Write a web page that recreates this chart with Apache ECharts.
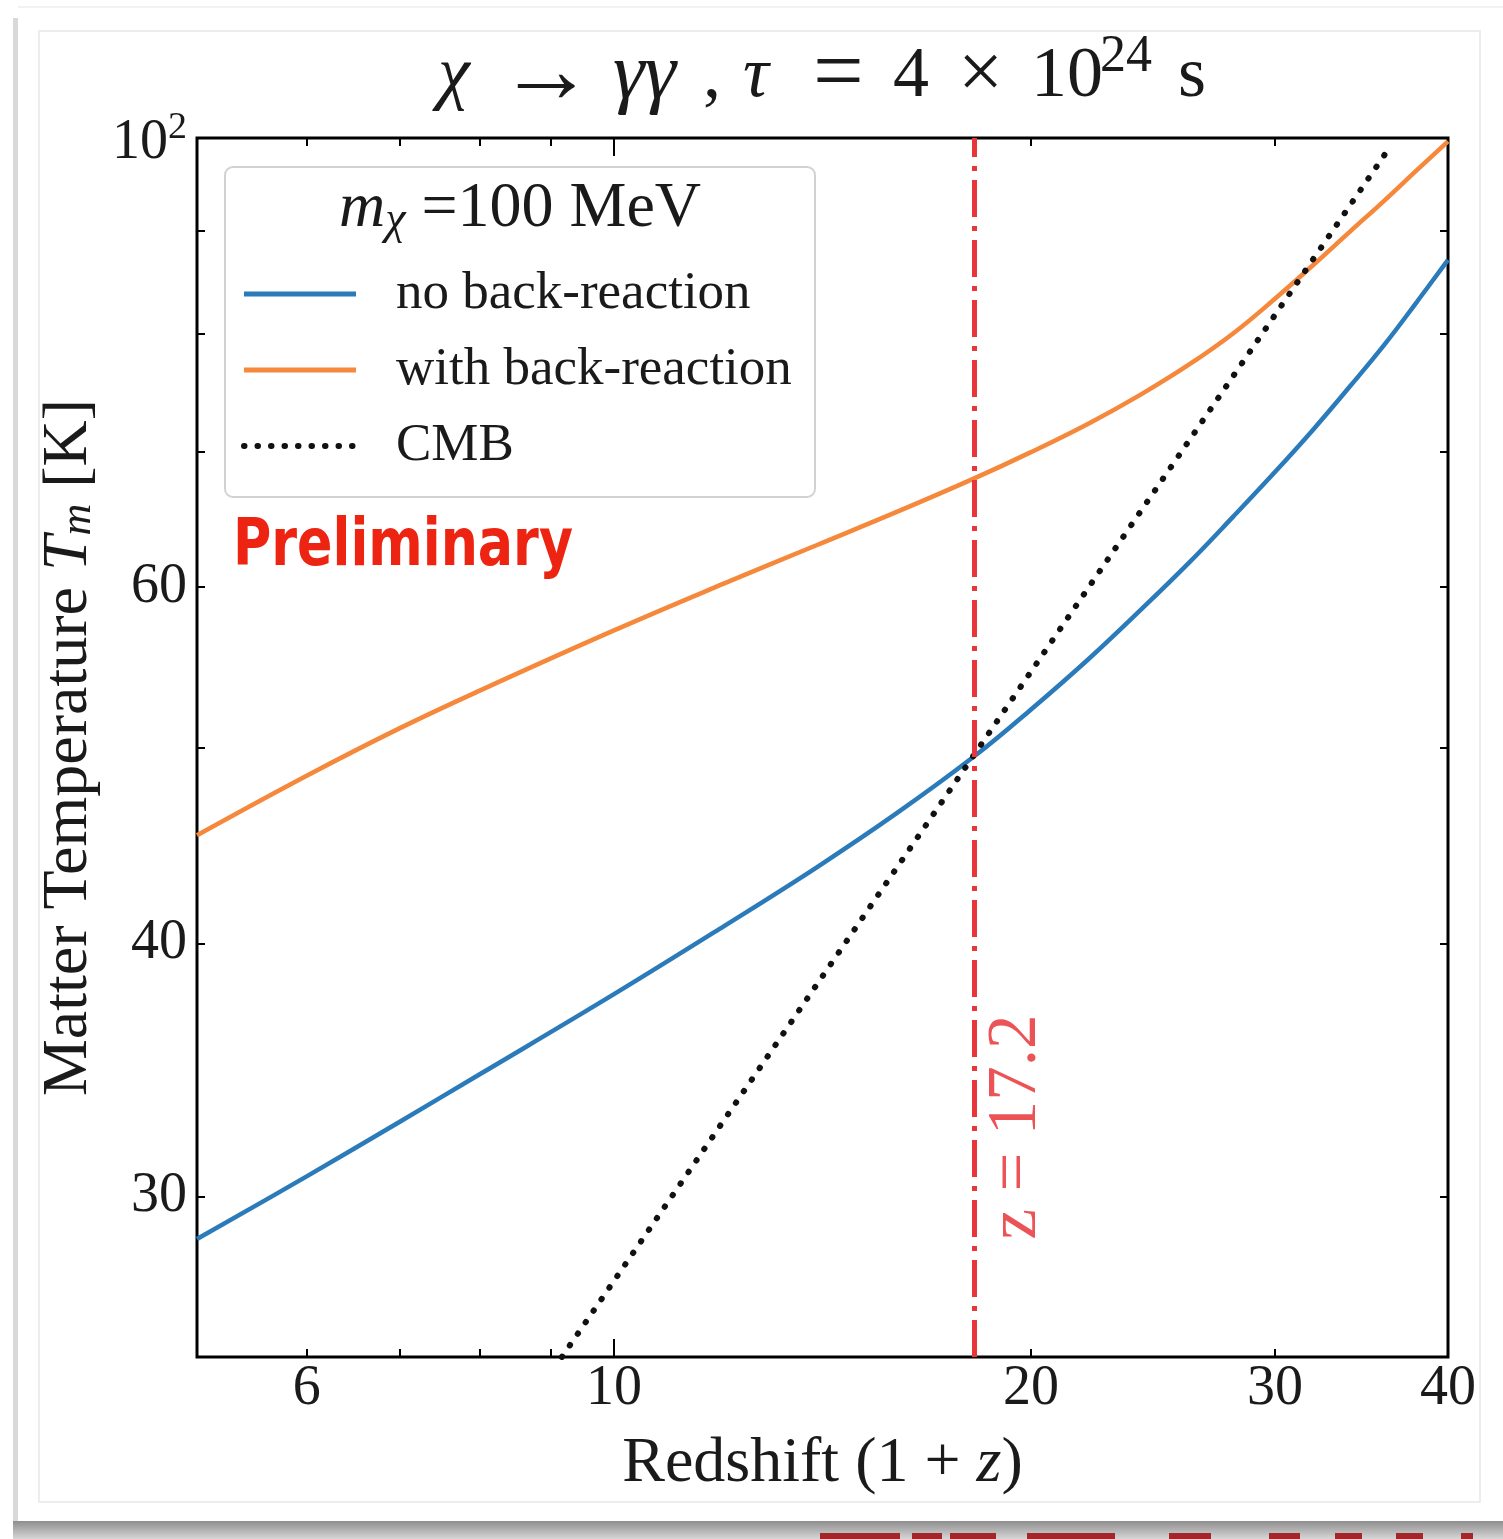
<!DOCTYPE html>
<html>
<head>
<meta charset="utf-8">
<title>Matter temperature vs redshift</title>
<script src="https://cdn.jsdelivr.net/npm/echarts@6/dist/echarts.min.js"></script>
<style>
  html, body { margin: 0; padding: 0; background: #fff; }
  #chart { width: 1503px; height: 1539px; }
</style>
</head>
<body>
<div id="chart"></div>
<script>
// 1 + z sample points
const redshift = [5, 6, 7, 8, 10, 12, 14, 16, 18.2, 20, 22, 24, 26, 28, 30, 32, 34, 36, 38, 40]
const tempNoBack = [28.59, 30.70, 32.66, 34.48, 37.77, 40.80, 43.62, 46.40, 49.50, 52.21,
  55.28, 58.47, 61.68, 65.03, 68.39, 71.83, 75.42, 79.08, 83.03, 87.06]
const tempWithBack = [45.25, 48.42, 51.10, 53.34, 57.12, 60.24, 62.93, 65.36, 67.90, 69.96,
  72.26, 74.69, 77.27, 80.09, 83.29, 86.60, 89.93, 93.16, 96.44, 99.61]
const cmbRedshift = [9.17, 18.2, 36.4]
const cmbTemp = [25.0, 49.6, 99.2]
const markRedshift = 18.2

const xMajorTicks = [10]
const xMinorTicks = [6, 7, 8, 9, 20, 30, 40]
const xTickLabels = [6, 10, 20, 30, 40]
const yMajorTicks = [100]
const yMinorTicks = [30, 40, 50, 60, 70, 80, 90]
const yTickLabels = [30, 40, 60, 100]

const SERIF = '"Liberation Serif", "DejaVu Serif", serif'
const INK = '#1a1a1a'
const BLUE = '#2b7bba'
const ORANGE = '#f5883b'
const RED = '#e8353a'

const zip = (xs, ys) => xs.map((x, i) => [x, ys[i]])
// text piece in the serif "math" font
const mt = (size, extra) => Object.assign({ fontFamily: SERIF, fontSize: size, color: INK }, extra)

const tickStyle = { color: '#000', width: 2 }
const majorTick = (vals) => ({ show: true, inside: true, length: 18, customValues: vals, lineStyle: tickStyle })
const minorTick = (vals) => ({ show: true, inside: true, length: 8, customValues: vals, lineStyle: tickStyle })

const logAxis = (range, extra) => Object.assign({
  type: 'log',
  logBase: 10,
  min: range[0],
  max: range[1],
  gridIndex: 0,
  axisLine: { show: false },
  splitLine: { show: false },
  axisTick: { show: false },
  axisLabel: { show: false }
}, extra)

const chart = echarts.init(document.getElementById('chart'))

chart.setOption({
  backgroundColor: '#fff',
  animation: false,
  title: {
    text: '{c|χ}{a|→}{g|γγ}{r|,}{t|τ}{e|=}{f|4}{x|×}{n|10}{s|24}{u|s}',
    left: 433,
    top: 24,
    textStyle: {
      fontFamily: SERIF,
      fontSize: 72,
      fontWeight: 'normal',
      color: INK,
      rich: {
        c: mt(72, { fontStyle: 'italic', width: 60 }),
        a: mt(96, { width: 115 }),
        g: mt(80, { fontStyle: 'italic', width: 90 }),
        r: mt(72, { width: 40 }),
        t: mt(72, { fontStyle: 'italic', width: 70 }),
        e: mt(90, { width: 80 }),
        f: mt(72, { width: 65 }),
        x: mt(80, { width: 73 }),
        n: mt(72, { width: 69 }),
        s: mt(52, { width: 78, padding: [0, 0, 40, 0] }),
        u: mt(72)
      }
    }
  },
  grid: {
    left: 197,
    right: 55,
    top: 138,
    bottom: 182,
    show: true,
    borderColor: '#000',
    borderWidth: 3,
    backgroundColor: 'transparent'
  },
  legend: {
    data: [
      { name: 'no back-reaction', lineStyle: { width: 5 } },
      { name: 'with back-reaction', lineStyle: { width: 5 } },
      { name: 'CMB', lineStyle: { width: 6, type: [0.5, 13], cap: 'round' } }
    ],
    orient: 'vertical',
    left: 236,
    top: 259,
    itemWidth: 112,
    itemHeight: 14,
    itemGap: 16,
    selectedMode: false,
    z: 5,
    itemStyle: { opacity: 0 },
    textStyle: {
      fontFamily: SERIF,
      fontSize: 53,
      color: INK,
      lineHeight: 60,
      padding: [0, 0, 0, 35]
    }
  },
  xAxis: [
    logAxis([5, 40], {
      position: 'bottom',
      axisTick: majorTick(xMajorTicks),
      axisLabel: {
        show: true,
        customValues: xTickLabels,
        margin: 4,
        fontFamily: SERIF,
        fontSize: 56,
        color: INK
      },
      name: 'Redshift (1 + {i|z})',
      nameLocation: 'middle',
      nameGap: 75,
      nameTextStyle: {
        fontFamily: SERIF,
        fontSize: 64,
        color: INK,
        rich: { i: mt(64, { fontStyle: 'italic' }) }
      }
    }),
    logAxis([5, 40], { position: 'bottom', axisTick: minorTick(xMinorTicks) }),
    logAxis([5, 40], { position: 'top', axisTick: majorTick(xMajorTicks) }),
    logAxis([5, 40], { position: 'top', axisTick: minorTick(xMinorTicks) })
  ],
  yAxis: [
    logAxis([25, 100], {
      position: 'left',
      axisTick: majorTick(yMajorTicks),
      axisLabel: {
        show: true,
        customValues: yTickLabels,
        margin: 10,
        fontFamily: SERIF,
        fontSize: 56,
        color: INK,
        formatter: (v) => (Math.round(v) === 100 ? '{b|10}{s|2}' : String(Math.round(v))),
        rich: {
          b: mt(56, { padding: [10, 0, 0, 0] }),
          s: mt(38, { padding: [0, 0, 20, 0] })
        }
      },
      name: 'Matter Temperature {i|T}{m|m} [K]',
      nameLocation: 'middle',
      nameRotate: 90,
      nameGap: 90,
      nameTextStyle: {
        fontFamily: SERIF,
        fontSize: 64,
        color: INK,
        rich: {
          i: mt(64, { fontStyle: 'italic' }),
          m: mt(44, { fontStyle: 'italic', padding: [18, 0, 0, 0] })
        }
      }
    }),
    logAxis([25, 100], { position: 'left', axisTick: minorTick(yMinorTicks) }),
    logAxis([25, 100], { position: 'right', axisTick: majorTick(yMajorTicks) }),
    logAxis([25, 100], { position: 'right', axisTick: minorTick(yMinorTicks) })
  ],
  series: [
    {
      name: 'no back-reaction',
      type: 'line',
      data: zip(redshift, tempNoBack),
      symbol: 'none',
      smooth: 0.4,
      lineStyle: { color: BLUE, width: 4.5 },
      itemStyle: { color: BLUE },
      z: 3,
      markLine: {
        silent: true,
        symbol: 'none',
        label: { show: false },
        lineStyle: { color: RED, width: 5, type: [37, 9, 5, 9] },
        data: [{ xAxis: markRedshift }]
      }
    },
    {
      name: 'with back-reaction',
      type: 'line',
      data: zip(redshift, tempWithBack),
      symbol: 'none',
      smooth: 0.4,
      lineStyle: { color: ORANGE, width: 4.5 },
      itemStyle: { color: ORANGE },
      z: 3
    },
    {
      name: 'CMB',
      type: 'line',
      data: zip(cmbRedshift, cmbTemp),
      symbol: 'none',
      lineStyle: { color: '#111', width: 6, type: [0.5, 13.5], cap: 'round' },
      itemStyle: { color: '#111' },
      z: 4
    }
  ],
  graphic: [
    // slide frame and shadow around the figure
    { type: 'rect', z: -10, shape: { x: 13, y: 18, width: 5, height: 1505 },
      style: { fill: '#d9d9d9' } },
    { type: 'rect', z: -10, shape: { x: 18, y: 6, width: 1485, height: 2 },
      style: { fill: '#f2f2f2' } },
    { type: 'rect', z: -10, shape: { x: 39, y: 31, width: 1441, height: 1471 },
      style: { fill: 'none', stroke: '#ededed', lineWidth: 2 } },
    { type: 'rect', z: -10, shape: { x: 13, y: 1521, width: 1490, height: 18 },
      style: {
        fill: new echarts.graphic.LinearGradient(0, 0, 0, 1, [
          { offset: 0, color: '#8e8e8e' },
          { offset: 1, color: '#d6d6d6' }
        ])
      } },
    // cropped caption below the slide
    { type: 'group', z: -9, children: [
      [820, 80], [912, 30], [950, 46], [1027, 88], [1169, 42], [1269, 31], [1335, 27], [1396, 27], [1461, 12]
    ].map(([x, w]) => ({ type: 'rect', shape: { x: x, y: 1533, width: w, height: 6 }, style: { fill: '#a3262a' } })) },
    // legend frame and title
    { type: 'rect', z: 1, shape: { x: 225, y: 167, width: 590, height: 330, r: 8 },
      style: { fill: 'rgba(255,255,255,0.85)', stroke: '#d2d2d2', lineWidth: 2 } },
    { type: 'text', z: 6, x: 520, y: 209,
      style: {
        text: '{i|m}{m|χ} =100 MeV',
        align: 'center',
        verticalAlign: 'middle',
        fontFamily: SERIF,
        fontSize: 64,
        fill: INK,
        rich: {
          i: { fontFamily: SERIF, fontSize: 64, fontStyle: 'italic', fill: INK },
          m: { fontFamily: SERIF, fontSize: 46, fontStyle: 'italic', fill: INK, padding: [24, 0, 0, 0] }
        }
      } },
    { type: 'text', z: 6, x: 233, y: 548, scaleX: 0.88,
      style: {
        text: 'Preliminary',
        verticalAlign: 'middle',
        fontFamily: '"DejaVu Sans Condensed", "DejaVu Sans", sans-serif',
        fontWeight: 'bold',
        fontSize: 66,
        fill: '#ee2412'
      } },
    { type: 'text', z: 6, x: 1017, y: 1127, rotation: Math.PI / 2,
      style: {
        text: 'z = 17.2',
        align: 'center',
        verticalAlign: 'middle',
        fontFamily: SERIF,
        fontSize: 69,
        fill: 'rgba(232, 53, 58, 0.85)'
      } }
  ]
})
</script>
</body>
</html>
